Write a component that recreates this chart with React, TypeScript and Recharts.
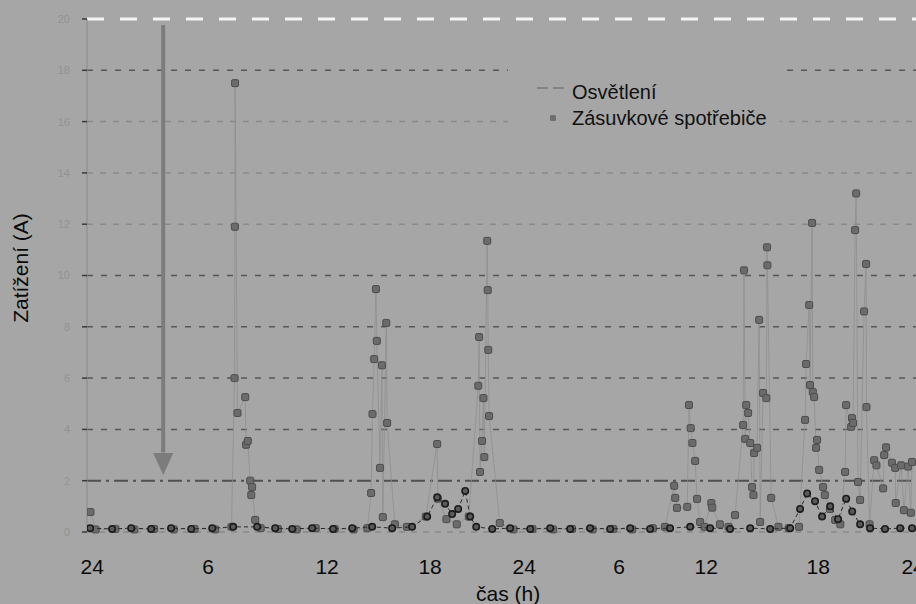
import {
  ScatterChart,
  Scatter,
  XAxis,
  YAxis,
  ReferenceLine,
  ReferenceDot,
  Legend,
} from "recharts";

// x is hours along the printed axis (0 = first "24" label)
const xTickHours = [0, 6.74, 13.66, 19.65, 25.12, 30.64, 35.7, 42.21, 47.73];
const xTickLabels = ["24", "6", "12", "18", "24", "6", "12", "18", "24"];
const yTicks = [0, 2, 4, 6, 8, 10, 12, 14, 16, 18, 20];

// Osvětlení (lighting)
const lightHours = [
  -0.12, 1.16, 2.27, 3.43, 4.59, 5.76, 6.98, 8.2, 9.59, 10.64, 11.63, 12.79,
  14.01, 15.12, 16.28, 17.44, 18.6, 19.48, 20.06, 20.52, 20.93, 21.28, 21.69,
  21.98, 22.33, 23.26, 24.3, 25.47, 26.63, 27.79, 28.95, 30.12, 31.28, 32.44,
  33.6, 34.77, 35.93, 37.09, 38.26, 39.42, 40.58, 41.16, 41.57, 42.03, 42.44,
  42.91, 43.37, 43.84, 44.19, 44.65, 45.23, 46.1, 46.98, 47.67,
];
const lightAmps = [
  0.15, 0.12, 0.15, 0.12, 0.15, 0.12, 0.15, 0.2, 0.2, 0.15, 0.12, 0.15, 0.12,
  0.15, 0.2, 0.15, 0.2, 0.6, 1.35, 1.1, 0.7, 0.9, 1.6, 0.6, 0.2, 0.12, 0.15,
  0.12, 0.15, 0.12, 0.15, 0.12, 0.15, 0.12, 0.15, 0.2, 0.15, 0.12, 0.15, 0.12,
  0.15, 0.9, 1.5, 1.2, 0.6, 1.0, 0.5, 1.3, 0.8, 0.3, 0.15, 0.12, 0.15, 0.15,
];

// Zásuvkové spotřebiče (sockets)
const socketHours = [
  -0.1, 0.2, 1.35, 2.45, 3.6, 4.75, 5.95, 7.15, 8.1, 8.28, 8.3, 8.31, 8.45,
  8.9, 8.95, 9.05, 9.19, 9.25, 9.3, 9.48, 9.8, 10.8, 11.9, 13.0, 14.1, 15.2,
  16.0, 16.22, 16.3, 16.4, 16.5, 16.55, 16.74, 16.85, 16.9, 17.1, 17.15, 17.6,
  18.3, 19.4, 20.06, 20.1, 20.6, 21.2, 21.9, 22.45, 22.5, 22.55, 22.67, 22.75,
  22.8, 22.97, 23.0, 23.03, 23.08, 23.7, 24.5, 25.6, 26.8, 27.9, 29.1, 30.3,
  31.4, 32.6, 33.3, 33.84, 33.9, 34.0, 34.6, 34.7, 34.8, 34.9, 35.06, 35.17,
  35.35, 35.6, 36.0, 36.05, 36.5, 37.0, 37.38, 37.85, 37.9, 37.97, 38.03,
  38.14, 38.26, 38.37, 38.45, 38.49, 38.66, 38.78, 38.84, 39.01, 39.2, 39.24,
  39.26, 39.48, 39.9, 40.5, 41.1, 41.45, 41.51, 41.69, 41.74, 41.86, 41.9,
  41.98, 42.09, 42.15, 42.27, 42.5, 42.6, 42.9, 43.2, 43.5, 43.78, 43.84,
  44.13, 44.18, 44.24, 44.36, 44.42, 44.53, 44.65, 44.88, 45.0, 45.02, 45.2,
  45.47, 45.6, 45.99, 46.05, 46.16, 46.5, 46.69, 46.72, 47.03, 47.2, 47.44,
  47.6, 47.67,
];
const socketAmps = [
  0.78, 0.1, 0.12, 0.1, 0.12, 0.1, 0.12, 0.1, 0.2, 6.0, 11.9, 17.5, 4.64,
  5.26, 3.4, 3.55, 2.0, 1.44, 1.75, 0.47, 0.15, 0.12, 0.1, 0.15, 0.12, 0.1,
  0.15, 1.52, 4.6, 6.74, 9.47, 7.45, 2.5, 6.5, 0.58, 8.15, 4.25, 0.3, 0.2,
  0.6, 3.43, 1.3, 0.5, 0.3, 0.6, 5.7, 7.6, 2.34, 3.55, 5.22, 2.92, 11.35,
  9.43, 7.1, 4.52, 0.35, 0.1, 0.12, 0.1, 0.12, 0.1, 0.12, 0.1, 0.15, 0.2,
  1.8, 1.33, 0.94, 0.98, 4.95, 4.05, 3.47, 2.77, 1.29, 0.39, 0.2, 1.13, 0.95,
  0.3, 0.2, 0.66, 4.17, 10.2, 3.63, 4.95, 4.64, 3.47, 1.75, 1.44, 3.08, 3.28,
  8.27, 0.39, 5.42, 5.22, 11.1, 10.4, 1.33, 0.2, 0.15, 0.2, 4.37, 6.55, 8.85,
  5.73, 12.05, 5.46, 5.26, 3.28, 3.59, 2.42, 1.75, 1.44, 0.9, 0.47, 0.3, 2.34,
  4.95, 4.1, 4.44, 4.25, 11.77, 13.2, 1.95, 1.25, 8.6, 10.45, 4.87, 0.3, 2.8,
  2.6, 1.7, 3.0, 3.3, 2.7, 2.5, 1.13, 2.6, 0.85, 2.55, 0.75, 2.73,
];

const lightData = lightHours.map((h, i) => ({ h, a: lightAmps[i] }));
const socketData = socketHours.map((h, i) => ({ h, a: socketAmps[i] }));

const BG = "#a6a6a6";
const FONT = "'Liberation Sans', Arial, sans-serif";

function gridStyle(v: number) {
  if (v === 20) return { stroke: "#f4f4f4", strokeWidth: 3, strokeDasharray: "17 16" };
  if (v === 2) return { stroke: "#505050", strokeWidth: 2, strokeDasharray: "14 5 3 5" };
  if (v === 0) return { stroke: "#7a7a7a", strokeWidth: 1, strokeDasharray: "6 6" };
  if (v >= 12 && v <= 16) return { stroke: "#8a8a8a", strokeWidth: 1.5, strokeDasharray: "6 7" };
  return { stroke: "#575757", strokeWidth: 1.5, strokeDasharray: "6 8" };
}

function SocketMark(props: any) {
  const { cx, cy } = props;
  return (
    <rect x={cx - 3.5} y={cy - 3.5} width={7} height={7} rx={1.5}
      fill="#6b6b6b" stroke="#4c4c4c" strokeWidth={1} />
  );
}

function LightMark(props: any) {
  const { cx, cy } = props;
  return <circle cx={cx} cy={cy} r={3.2} fill="#5a5a5a" stroke="#1c1c1c" strokeWidth={1.6} />;
}

function ArrowHead(props: any) {
  const { cx, cy } = props;
  return <polygon points={`${cx - 10},${cy} ${cx + 10},${cy} ${cx},${cy + 22}`} fill="#7c7c7c" />;
}

function XTick(props: any) {
  const { x, y, payload } = props;
  const i = xTickHours.indexOf(payload.value);
  return (
    <text x={x} y={y + 42} textAnchor="middle" fontSize={21} fill="#0a0a0a" fontFamily={FONT}>
      {xTickLabels[i]}
    </text>
  );
}

function renderLegend() {
  return (
    <svg width={272} height={72}>
      <line x1={29} x2={57} y1={26} y2={26} stroke="#777" strokeWidth={1.5} strokeDasharray="11 5" />
      <text x={64} y={37} fontSize={20} fill="#111" fontFamily={FONT}>Osvětlení</text>
      <rect x={42} y={53} width={6} height={6} rx={1.5} fill="#6e6e6e" />
      <text x={64} y={63} fontSize={20} fill="#111" fontFamily={FONT}>Zásuvkové spotřebiče</text>
    </svg>
  );
}

export default function App() {
  return (
    <div style={{ position: "absolute", left: 0, top: 0, width: 916, height: 604, background: BG, overflow: "hidden" }}>
      <ScatterChart width={916} height={604} margin={{ top: 19, right: 0, left: 47, bottom: 0 }}>
        <XAxis
          type="number"
          dataKey="h"
          domain={[-0.3, 47.9]}
          ticks={xTickHours}
          interval={0}
          allowDataOverflow
          axisLine={false}
          tickLine={false}
          tickSize={0}
          tickMargin={0}
          height={72}
          tick={XTick}
          label={() => (
            <text x={476} y={601} fontSize={21} fill="#0a0a0a" fontFamily={FONT}>čas (h)</text>
          )}
        />
        <YAxis
          type="number"
          dataKey="a"
          domain={[0, 20]}
          ticks={yTicks}
          interval={0}
          width={40}
          axisLine={{ stroke: "#8a8a8a" }}
          tickLine={{ stroke: "#3a3a3a", strokeWidth: 1.5 }}
          tickSize={5}
          tickMargin={12}
          tick={{ fill: "#929292", fontSize: 11, fontFamily: FONT }}
          label={() => (
            <text transform="translate(28,268) rotate(-90)" textAnchor="middle" fontSize={21}
              fill="#0a0a0a" fontFamily={FONT}>Zatížení (A)</text>
          )}
        />
        {yTicks.map((v) => (
          <ReferenceLine key={v} y={v} {...gridStyle(v)} />
        ))}
        <ReferenceLine
          segment={[{ x: 4.13, y: 19.77 }, { x: 4.13, y: 3.1 }]}
          stroke="#7c7c7c"
          strokeWidth={4}
        />
        <ReferenceDot x={4.13} y={3.08} r={0} shape={ArrowHead} />
        <Scatter
          name="Zásuvkové spotřebiče"
          data={socketData}
          fill="#6b6b6b"
          line={{ stroke: "#8f8f8f", strokeWidth: 0.8 }}
          shape={SocketMark}
          isAnimationActive={false}
        />
        <Scatter
          name="Osvětlení"
          data={lightData}
          fill="#333"
          line={{ stroke: "#2a2a2a", strokeWidth: 1, strokeDasharray: "4 3" }}
          shape={LightMark}
          isAnimationActive={false}
        />
        <Legend
          layout="horizontal"
          verticalAlign="middle"
          align="center"
          content={renderLegend}
          wrapperStyle={{ position: "absolute", left: 508, top: 62, width: 272, height: 72, background: BG }}
        />
      </ScatterChart>
    </div>
  );
}
